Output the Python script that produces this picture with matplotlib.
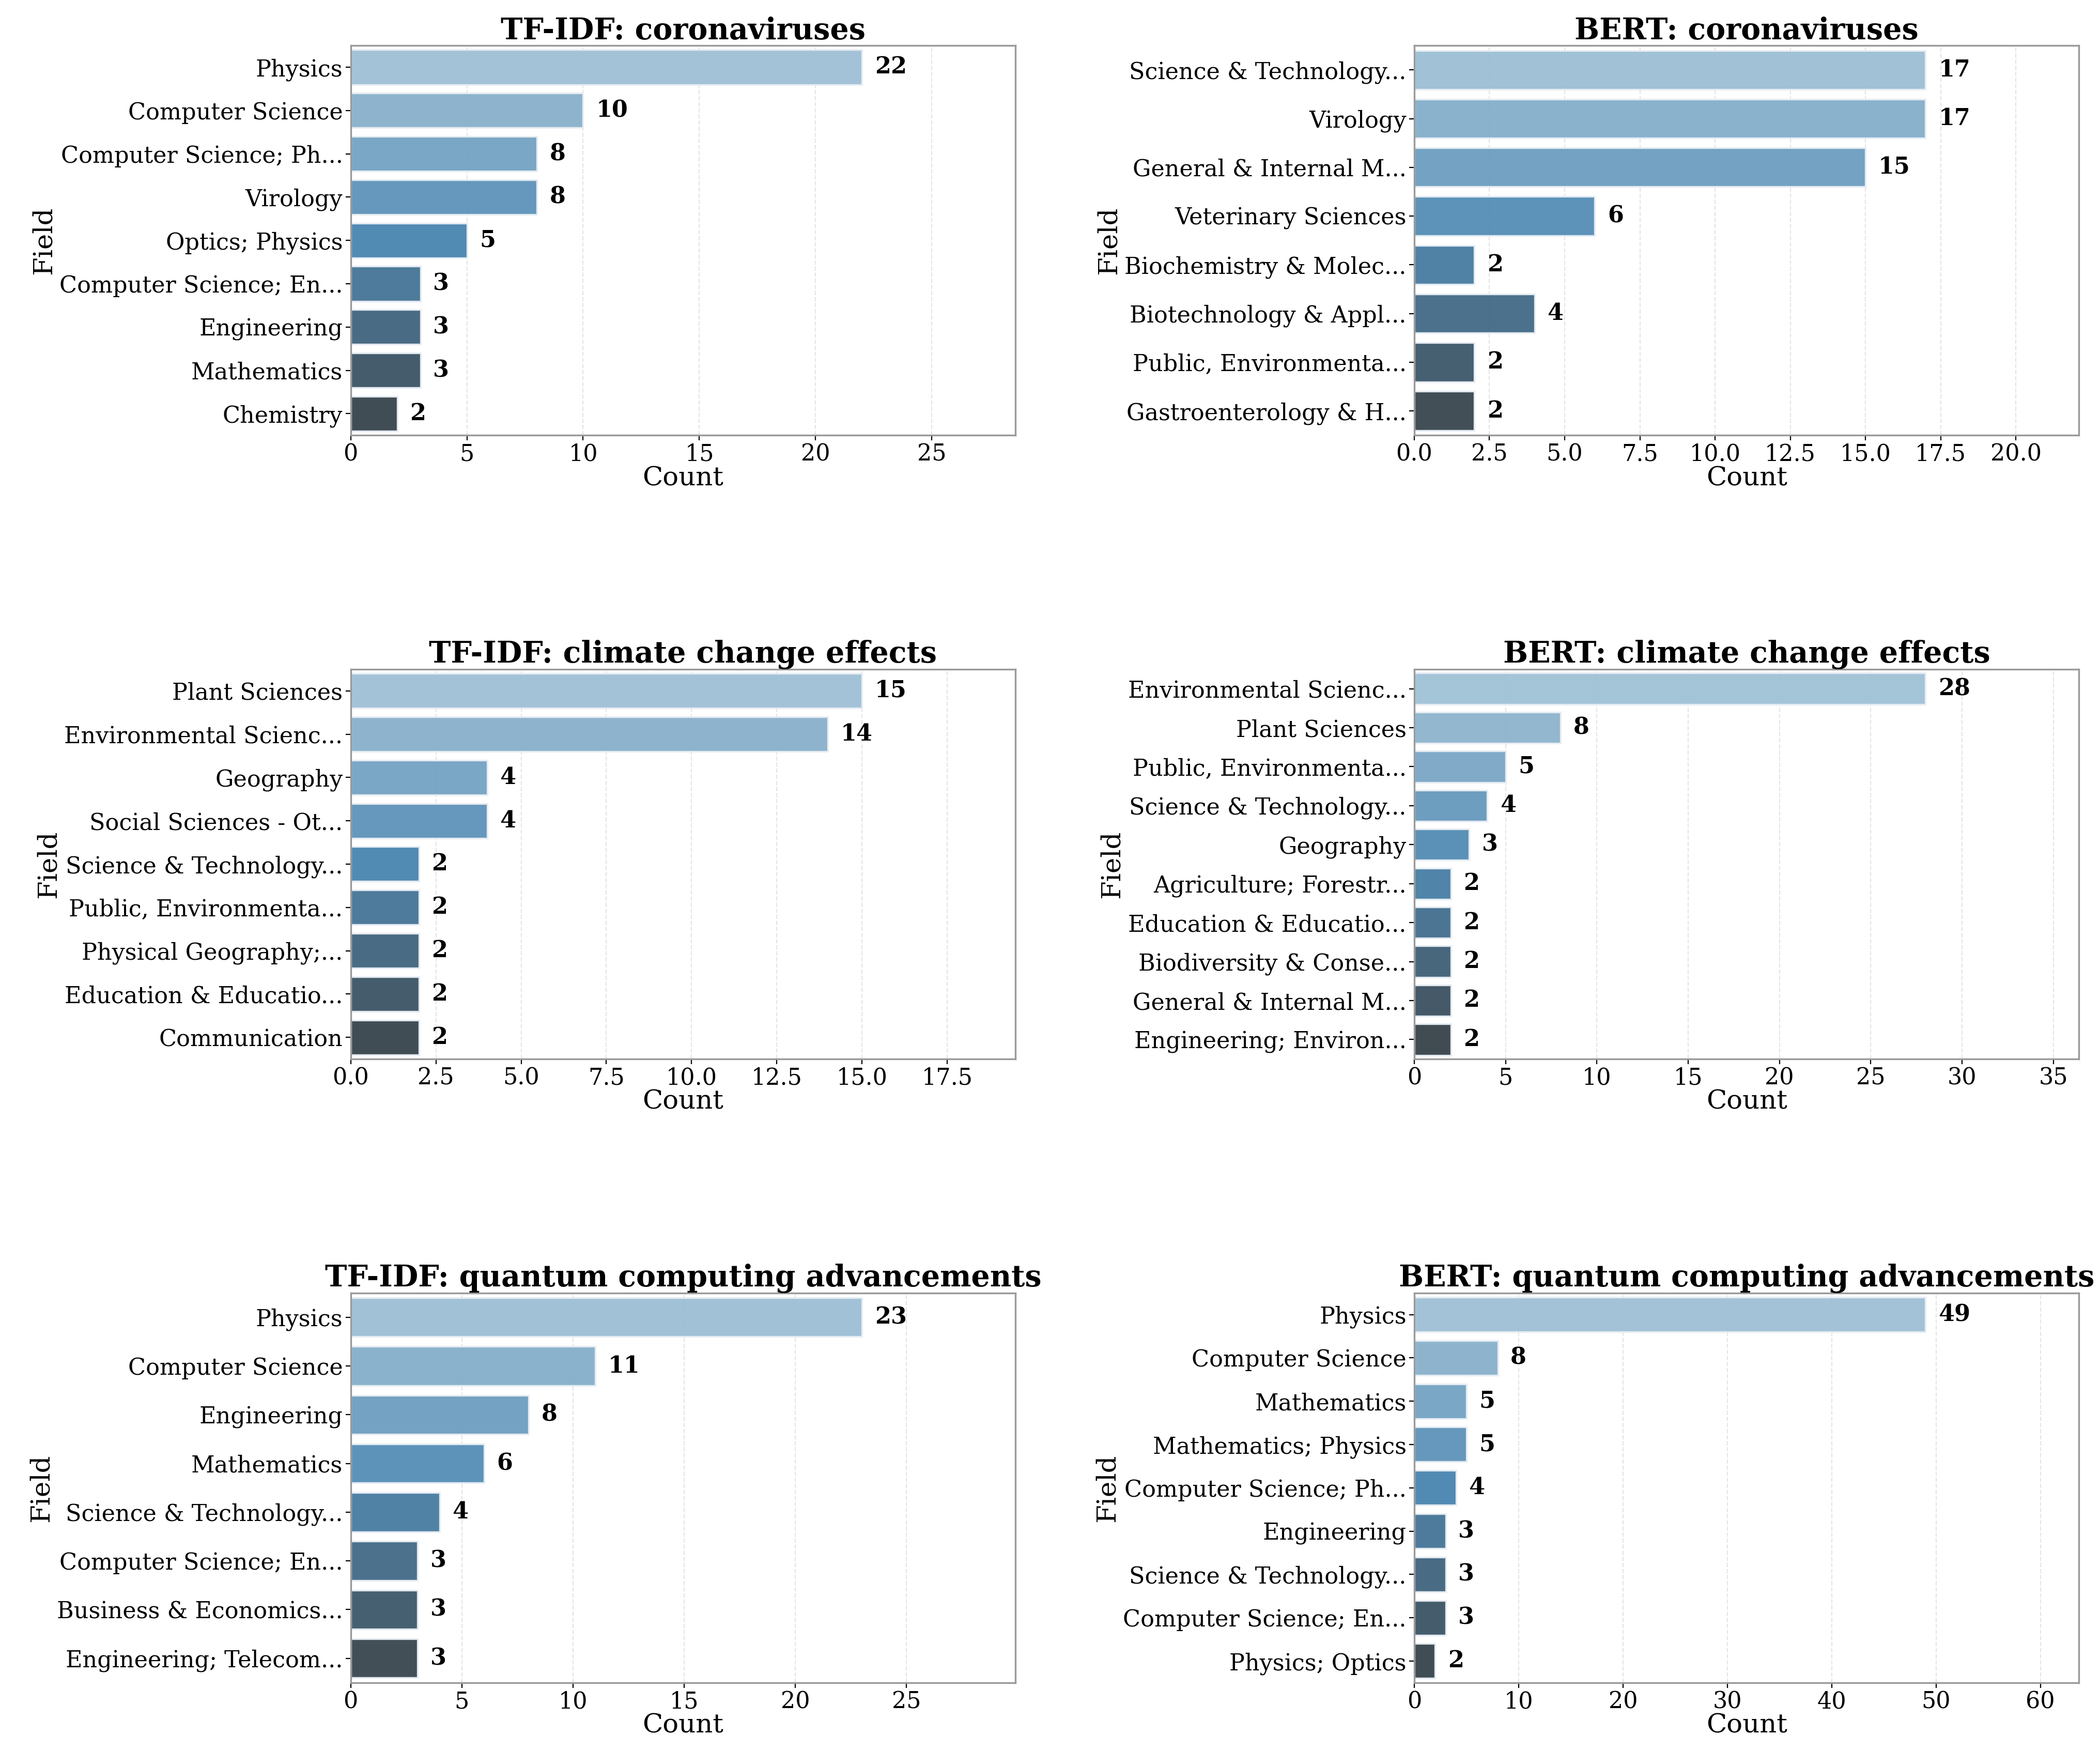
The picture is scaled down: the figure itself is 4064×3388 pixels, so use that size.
import numpy as np
import matplotlib
matplotlib.use("Agg")
import matplotlib.pyplot as plt
import seaborn as sns

# TF-IDF / BERT field counts per query
tfidf_corona_fields = ["Physics", "Computer Science", "Computer Science; Ph...", "Virology",
                       "Optics; Physics", "Computer Science; En...", "Engineering", "Mathematics", "Chemistry"]
tfidf_corona_counts = [22, 10, 8, 8, 5, 3, 3, 3, 2]

bert_corona_fields = ["Science & Technology...", "Virology", "General & Internal M...", "Veterinary Sciences",
                      "Biochemistry & Molec...", "Biotechnology & Appl...", "Public, Environmenta...",
                      "Gastroenterology & H..."]
bert_corona_counts = [17, 17, 15, 6, 2, 4, 2, 2]

tfidf_climate_fields = ["Plant Sciences", "Environmental Scienc...", "Geography", "Social Sciences - Ot...",
                        "Science & Technology...", "Public, Environmenta...", "Physical Geography;...",
                        "Education & Educatio...", "Communication"]
tfidf_climate_counts = [15, 14, 4, 4, 2, 2, 2, 2, 2]

bert_climate_fields = ["Environmental Scienc...", "Plant Sciences", "Public, Environmenta...",
                       "Science & Technology...", "Geography", "Agriculture; Forestr...",
                       "Education & Educatio...", "Biodiversity & Conse...", "General & Internal M...",
                       "Engineering; Environ..."]
bert_climate_counts = [28, 8, 5, 4, 3, 2, 2, 2, 2, 2]

tfidf_quantum_fields = ["Physics", "Computer Science", "Engineering", "Mathematics", "Science & Technology...",
                        "Computer Science; En...", "Business & Economics...", "Engineering; Telecom..."]
tfidf_quantum_counts = [23, 11, 8, 6, 4, 3, 3, 3]

bert_quantum_fields = ["Physics", "Computer Science", "Mathematics", "Mathematics; Physics",
                       "Computer Science; Ph...", "Engineering", "Science & Technology...",
                       "Computer Science; En...", "Physics; Optics"]
bert_quantum_counts = [49, 8, 5, 5, 4, 3, 3, 3, 2]

panels = [
    ("TF-IDF: coronaviruses", tfidf_corona_fields, tfidf_corona_counts),
    ("BERT: coronaviruses", bert_corona_fields, bert_corona_counts),
    ("TF-IDF: climate change effects", tfidf_climate_fields, tfidf_climate_counts),
    ("BERT: climate change effects", bert_climate_fields, bert_climate_counts),
    ("TF-IDF: quantum computing advancements", tfidf_quantum_fields, tfidf_quantum_counts),
    ("BERT: quantum computing advancements", bert_quantum_fields, bert_quantum_counts),
]

plt.rcParams['font.family'] = ['DejaVu Serif']

fig, axes = plt.subplots(3, 2, figsize=(20.32, 16.94), dpi=200)
fig.subplots_adjust(left=0.167, right=0.99, bottom=0.039, top=0.974, wspace=0.6, hspace=0.6)

for ax, (title, fields, counts) in zip(axes.flat, panels):
    y = np.arange(len(fields))
    colors = [sns.desaturate(c, 0.75) for c in sns.color_palette("Blues_d", len(fields))]
    ax.barh(y, counts, color=colors, height=0.8, edgecolor="#e8eef4", linewidth=1.2, alpha=0.95, zorder=2)
    ax.set_yticks(y)
    ax.set_yticklabels(fields, fontsize=16)
    ax.set_ylim(len(fields) - 0.5, -0.5)
    ax.set_xlim(0, max(counts) * 1.3)
    ax.tick_params(axis="x", labelsize=16, pad=2)
    ax.tick_params(axis="y", pad=2)
    ax.grid(axis="x", color="#cccccc", linewidth=0.8, linestyle="--", alpha=0.5, zorder=0)
    ax.set_axisbelow(True)
    for s in ax.spines.values():
        s.set_color("#999999")
        s.set_linewidth(1.2)
    for yi, c in zip(y, counts):
        ax.text(c + max(counts) * 0.025, yi, str(c), va="center", ha="left",
                fontsize=16, fontweight="bold")
    ax.set_title(title, fontsize=20.5, fontweight="bold", pad=3)
    ax.set_xlabel("Count", fontsize=18.5, labelpad=0)
    ax.set_ylabel("Field", fontsize=18.5, labelpad=2)

fig.savefig("out.png", dpi=200)
